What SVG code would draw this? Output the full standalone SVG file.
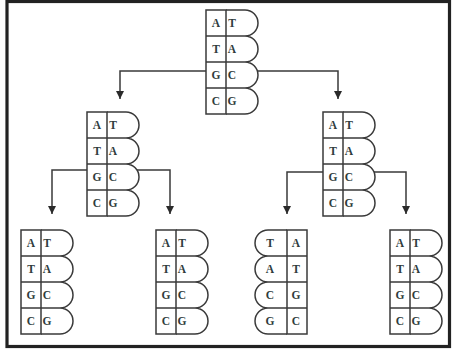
<svg xmlns="http://www.w3.org/2000/svg" xmlns:xlink="http://www.w3.org/1999/xlink" width="452" height="351" viewBox="0 0 452 351">
  <style>
    .ln { fill: none; stroke: #3a3a3a; stroke-width: 1.5; }
    .frame { fill: none; stroke: #222; stroke-width: 3.2; }
    .b { font-family: "Liberation Serif", "Times New Roman", serif; font-size: 11.5px; font-weight: bold; fill: #2f3c3c; text-anchor: middle; }
    .conn { fill: none; stroke: #3a3a3a; stroke-width: 1.5; marker-end: url(#tip); }
  </style>
  <defs>
    <marker id="tip" viewBox="0 0 8 8" refX="8" refY="4" markerWidth="8" markerHeight="8" markerUnits="userSpaceOnUse" orient="auto">
      <path d="M0,0 L8,4 L0,8 Z" fill="#2a2a2a"/>
    </marker>
    <!-- one DNA strand pair: base column on the left, four rounded caps on the right -->
    <g id="strand">
      <rect class="ln" x="0" y="0" width="20" height="104"/>
      <path class="ln" d="M0,26 H20 M0,52 H20 M0,78 H20"/>
      <path class="ln" d="M20,0 H39 A13,13 0 0 1 39,26 H20
                          M20,26 H39 A13,13 0 0 1 39,52 H20
                          M20,52 H39 A13,13 0 0 1 39,78 H20
                          M20,78 H39 A13,13 0 0 1 39,104 H20"/>
    </g>
  </defs>

  <rect x="0" y="0" width="452" height="351" fill="#fff"/>
  <rect class="frame" x="7" y="1.5" width="442.5" height="345"/>

  <g id="connectors">
    <path class="conn" d="M206,71 H120 V99"/>
    <path class="conn" d="M257,71 H338 V99"/>
    <path class="conn" d="M87,170 H52 V214"/>
    <path class="conn" d="M137,170 H170 V214"/>
    <path class="conn" d="M323,172 H287 V214"/>
    <path class="conn" d="M374,172 H406 V214"/>
  </g>

  <g id="parent">
    <use xlink:href="#strand" x="206" y="10"/>
    <text class="b" x="216" y="27">A</text><text class="b" x="232" y="27">T</text>
    <text class="b" x="216" y="53">T</text><text class="b" x="232" y="53">A</text>
    <text class="b" x="216" y="79">G</text><text class="b" x="232" y="79">C</text>
    <text class="b" x="216" y="105">C</text><text class="b" x="232" y="105">G</text>
  </g>

  <g id="gen1-left">
    <use xlink:href="#strand" x="87" y="112"/>
    <text class="b" x="97" y="129">A</text><text class="b" x="113" y="129">T</text>
    <text class="b" x="97" y="155">T</text><text class="b" x="113" y="155">A</text>
    <text class="b" x="97" y="181">G</text><text class="b" x="113" y="181">C</text>
    <text class="b" x="97" y="207">C</text><text class="b" x="113" y="207">G</text>
  </g>

  <g id="gen1-right">
    <use xlink:href="#strand" x="323" y="112"/>
    <text class="b" x="333" y="129">A</text><text class="b" x="349" y="129">T</text>
    <text class="b" x="333" y="155">T</text><text class="b" x="349" y="155">A</text>
    <text class="b" x="333" y="181">G</text><text class="b" x="349" y="181">C</text>
    <text class="b" x="333" y="207">C</text><text class="b" x="349" y="207">G</text>
  </g>

  <g id="gen2-a">
    <use xlink:href="#strand" x="21" y="230"/>
    <text class="b" x="31" y="247">A</text><text class="b" x="47" y="247">T</text>
    <text class="b" x="31" y="273">T</text><text class="b" x="47" y="273">A</text>
    <text class="b" x="31" y="299">G</text><text class="b" x="47" y="299">C</text>
    <text class="b" x="31" y="325">C</text><text class="b" x="47" y="325">G</text>
  </g>

  <g id="gen2-b">
    <use xlink:href="#strand" x="156" y="230"/>
    <text class="b" x="166" y="247">A</text><text class="b" x="182" y="247">T</text>
    <text class="b" x="166" y="273">T</text><text class="b" x="182" y="273">A</text>
    <text class="b" x="166" y="299">G</text><text class="b" x="182" y="299">C</text>
    <text class="b" x="166" y="325">C</text><text class="b" x="182" y="325">G</text>
  </g>

  <g id="gen2-c">
    <use xlink:href="#strand" transform="translate(307,230) scale(-1,1)"/>
    <text class="b" x="270" y="247">T</text><text class="b" x="296" y="247">A</text>
    <text class="b" x="270" y="273">A</text><text class="b" x="296" y="273">T</text>
    <text class="b" x="270" y="299">C</text><text class="b" x="296" y="299">G</text>
    <text class="b" x="270" y="325">G</text><text class="b" x="296" y="325">C</text>
  </g>

  <g id="gen2-d">
    <use xlink:href="#strand" x="390" y="230"/>
    <text class="b" x="400" y="247">A</text><text class="b" x="416" y="247">T</text>
    <text class="b" x="400" y="273">T</text><text class="b" x="416" y="273">A</text>
    <text class="b" x="400" y="299">G</text><text class="b" x="416" y="299">C</text>
    <text class="b" x="400" y="325">C</text><text class="b" x="416" y="325">G</text>
  </g>
</svg>
